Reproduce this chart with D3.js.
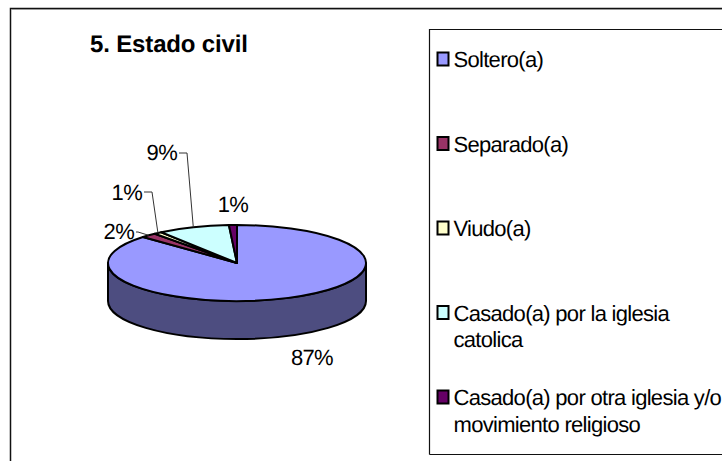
<!DOCTYPE html>
<html>
<head>
<meta charset="utf-8">
<style>
    html,body{margin:0;padding:0;background:#fff}
    svg{display:block}
    text{font-family:"Liberation Sans",Arial,sans-serif;fill:#000;text-rendering:geometricPrecision}
</style>
<script src="https://d3js.org/d3.v7.min.js"></script>
</head>
<body>
<svg width="722" height="461"></svg>
<script>
var title = "5. Estado civil";
var categories = ["Soltero(a)", "Separado(a)", "Viudo(a)", "Casado(a) por la iglesia catolica", "Casado(a) por otra iglesia y/o movimiento religioso"];
var legendLines = [["Soltero(a)"], ["Separado(a)"], ["Viudo(a)"], ["Casado(a) por la iglesia", "catolica"], ["Casado(a) por otra iglesia y/o", "movimiento religioso"]];
var values = [87, 2, 1, 9, 1];
var colors = ["#9999ff", "#993366", "#ffffcc", "#ccffff", "#660066"];
var sideColor = "#4d4d80";

var svg = d3.select("svg");

// frame, runs off the right and bottom of the picture
svg.append("path").attr("d", "M10.5,461V8.5H722").attr("fill", "none").attr("stroke", "#111").attr("stroke-width", 1.5);
svg.append("path").attr("d", "M12,9.5H722").attr("stroke", "#999").attr("stroke-width", 1);

svg.append("text").attr("x", 90).attr("y", 52)
    .attr("font-size", 24).attr("font-weight", "bold").attr("letter-spacing", -0.15)
    .text(title);

// pie
var cx = 237, cy = 263, rx = 129, ry = 38, depth = 38;
var g = svg.append("g").attr("transform", "translate(" + cx + "," + cy + ")");

g.append("path")
    .attr("d", "M" + (-rx) + ",0A" + rx + "," + ry + " 0 0 0 " + rx + ",0V" + depth + "A" + rx + "," + ry + " 0 0 1 " + (-rx) + "," + depth + "Z")
    .attr("fill", sideColor).attr("stroke", "#000").attr("stroke-width", 2);

var pie = d3.pie().sort(null);
var arc = d3.arc().innerRadius(0).outerRadius(rx);
var slices = pie(values);

g.append("g").attr("transform", "scale(1," + (ry / rx) + ")")
    .selectAll("path").data(slices).enter().append("path")
    .attr("d", arc)
    .attr("fill", function(d, i) { return colors[i]; })
    .attr("stroke", "#000").attr("stroke-width", 2)
    .attr("stroke-linejoin", "round")
    .attr("vector-effect", "non-scaling-stroke");

// point on the rim in the middle of a slice
function rim(d) {
    var a = (d.startAngle + d.endAngle) / 2;
    return [Math.sin(a) * rx, -Math.cos(a) * ry];
}

// label placement: text anchor and leader elbow, relative to the pie centre
var labelPos = [
    {x: 75, y: 102, anchor: "middle"},
    {x: -103, y: -24, anchor: "end", elbow: [-99, -31]},
    {x: -95, y: -63, anchor: "end", elbow: [-85, -71]},
    {x: -60, y: -103, anchor: "end", elbow: [-50, -110]},
    {x: -4, y: -51, anchor: "middle"}
];

slices.forEach(function(d, i) {
    var p = labelPos[i];
    g.append("text").attr("x", p.x).attr("y", p.y)
        .attr("text-anchor", p.anchor).attr("font-size", 22)
        .attr("letter-spacing", -0.7)
        .text(d3.format(".0%")(d.value / 100));
    if (p.elbow) {
        var r = rim(d);
        g.append("path")
            .attr("d", d3.line()([[p.x + 2, p.elbow[1]], p.elbow, r]))
            .attr("fill", "none").attr("stroke", "#333").attr("stroke-width", 1);
    }
});

// legend
svg.append("path").attr("d", "M429.5,454.5V29.5H722M429.5,454.5H722").attr("fill", "none").attr("stroke", "#111").attr("stroke-width", 1.2);

var legendY = d3.scalePoint().domain(d3.range(categories.length)).range([67, 405]);
var legend = svg.selectAll(".legend").data(legendLines).enter().append("g")
    .attr("class", "legend")
    .attr("transform", function(d, i) { return "translate(0," + legendY(i) + ")"; });

legend.append("rect").attr("x", 437.5).attr("y", -14.5).attr("width", 11).attr("height", 13)
    .attr("fill", function(d, i) { return colors[i]; })
    .attr("stroke", "#000").attr("stroke-width", 2);

legend.each(function(lines) {
    d3.select(this).selectAll("text").data(lines).enter().append("text")
        .attr("x", 453.5).attr("y", function(d, j) { return j * 26.5; })
        .attr("font-size", 22).attr("letter-spacing", -0.7)
        .text(function(d) { return d; });
});
</script>
</body>
</html>
